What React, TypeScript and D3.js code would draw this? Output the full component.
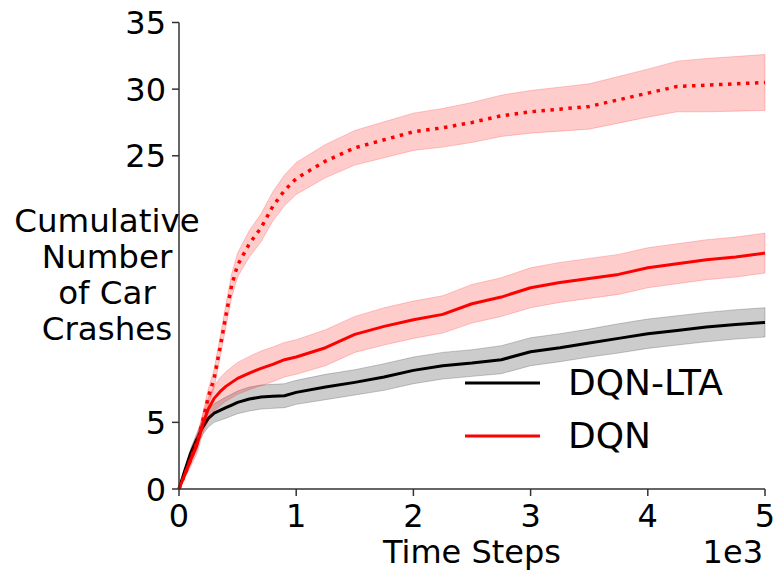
import React from "react";
import * as d3 from "d3";

const steps = [0, 50, 100, 150, 200, 250, 300, 350, 400, 450, 500, 600, 700, 800, 900, 1000, 1250, 1500, 1750, 2000, 2250, 2500, 2750, 3000, 3250, 3500, 3750, 4000, 4250, 4500, 4750, 5000];

const dqnLtaMean = [0, 1.4, 2.7, 3.7, 4.6, 5.3, 5.7, 5.9, 6.1, 6.3, 6.5, 6.75, 6.9, 6.95, 7.0, 7.25, 7.65, 8.0, 8.4, 8.9, 9.25, 9.45, 9.7, 10.3, 10.6, 10.95, 11.3, 11.65, 11.9, 12.15, 12.35, 12.5];
const dqnLtaSpread = [0, 0.2, 0.35, 0.45, 0.55, 0.65, 0.7, 0.75, 0.8, 0.82, 0.85, 0.9, 0.9, 0.9, 0.9, 0.9, 0.95, 0.95, 1.0, 1.0, 1.0, 1.0, 1.05, 1.05, 1.05, 1.05, 1.1, 1.1, 1.1, 1.1, 1.1, 1.1];

const dqnMean = [0, 1.1, 2.2, 3.2, 4.8, 6.0, 6.8, 7.3, 7.7, 8.0, 8.3, 8.7, 9.05, 9.35, 9.7, 9.9, 10.6, 11.6, 12.2, 12.7, 13.1, 13.9, 14.4, 15.1, 15.5, 15.8, 16.1, 16.6, 16.9, 17.2, 17.4, 17.7];
const dqnSpread = [0, 0.3, 0.5, 0.6, 0.7, 0.85, 0.95, 1.05, 1.1, 1.15, 1.2, 1.25, 1.3, 1.3, 1.3, 1.3, 1.35, 1.35, 1.4, 1.4, 1.4, 1.45, 1.45, 1.5, 1.5, 1.5, 1.5, 1.5, 1.5, 1.5, 1.5, 1.5];

const dottedMean = [0, 1.1, 2.2, 3.4, 5.0, 6.9, 8.3, 10.6, 13.0, 15.3, 16.8, 18.4, 19.6, 21.2, 22.4, 23.3, 24.6, 25.6, 26.2, 26.8, 27.1, 27.5, 28.0, 28.3, 28.5, 28.7, 29.2, 29.7, 30.2, 30.3, 30.4, 30.5];
const dottedSpread = [0, 0.2, 0.35, 0.45, 0.55, 0.62, 0.7, 0.78, 0.85, 0.88, 0.9, 1.0, 1.05, 1.1, 1.15, 1.2, 1.25, 1.3, 1.35, 1.4, 1.45, 1.5, 1.55, 1.6, 1.65, 1.7, 1.75, 1.8, 1.9, 2.0, 2.05, 2.1];

const xTicks = [0, 1000, 2000, 3000, 4000, 5000];
const xTickLabels = ["0", "1", "2", "3", "4", "5"];
const yTicks = [0, 5, 25, 30, 35];
const yLabelLines = ["Cumulative", "Number", "of Car", "Crashes"];
const legendNames = ["DQN-LTA", "DQN"];

const FONT = "DejaVu Sans";

export default function App() {
  const left = 179, right = 765, top = 22.5, bottom = 489;
  const x = d3.scaleLinear().domain([0, 5000]).range([left, right]);
  const y = d3.scaleLinear().domain([0, 35]).range([bottom, top]);

  const line = d3.line<number>().x((_, i) => x(steps[i])).y((d) => y(d));
  const area = (mean: number[], spread: number[]) =>
    d3.area<number>()
      .x((_, i) => x(steps[i]))
      .y0((d, i) => y(d - spread[i]))
      .y1((d, i) => y(d + spread[i]))(mean) || "";

  const series = [
    { mean: dqnLtaMean, spread: dqnLtaSpread, color: "#000000", dash: undefined as string | undefined },
    { mean: dqnMean, spread: dqnSpread, color: "#ff0000", dash: undefined },
    { mean: dottedMean, spread: dottedSpread, color: "#ff0000", dash: "3.5 5.5" },
  ];

  return (
    <svg width={777} height={571} style={{ position: "absolute", left: 0, top: 0, background: "#fff" }} fontFamily={FONT}>
      {series.map((s, k) => (
        <g key={k}>
          <path d={area(s.mean, s.spread)} fill={s.color} fillOpacity={0.2} stroke={s.color} strokeOpacity={0.2} strokeWidth={1} />
          <path d={line(s.mean) || ""} fill="none" stroke={s.color} strokeWidth={s.dash ? 3.5 : 3} strokeDasharray={s.dash} strokeLinejoin="round" />
        </g>
      ))}
      <line x1={left} x2={left} y1={top} y2={bottom} stroke="#333" strokeWidth={1.5} />
      <line x1={left} x2={right} y1={bottom} y2={bottom} stroke="#333" strokeWidth={1.5} />
      {yTicks.map((t) => (
        <g key={"y" + t}>
          <line x1={left - 7} x2={left} y1={y(t)} y2={y(t)} stroke="#333" strokeWidth={1.5} />
          <text x={left - 13} y={y(t) + 11.5} fontSize={32} textAnchor="end" fill="#000">{t}</text>
        </g>
      ))}
      {xTicks.map((t, i) => (
        <g key={"x" + t}>
          <line x1={x(t)} x2={x(t)} y1={bottom} y2={bottom + 7} stroke="#333" strokeWidth={1.5} />
          <text x={x(t)} y={527} fontSize={32} textAnchor="middle" fill="#000">{xTickLabels[i]}</text>
        </g>
      ))}
      <text x={(left + right) / 2} y={563} fontSize={32} textAnchor="middle" fill="#000">Time Steps</text>
      <text x={763} y={563} fontSize={32} textAnchor="end" fill="#000">1e3</text>
      {yLabelLines.map((l, i) => (
        <text key={l} x={107} y={232 + i * 36} fontSize={32.5} textAnchor="middle" fill="#000">{l}</text>
      ))}
      {legendNames.map((n, i) => (
        <g key={n}>
          <line x1={465} x2={540} y1={383 + i * 53} y2={383 + i * 53} stroke={i === 0 ? "#000" : "#ff0000"} strokeWidth={3} />
          <text x={568} y={395 + i * 53} fontSize={36} fill="#000">{n}</text>
        </g>
      ))}
    </svg>
  );
}
